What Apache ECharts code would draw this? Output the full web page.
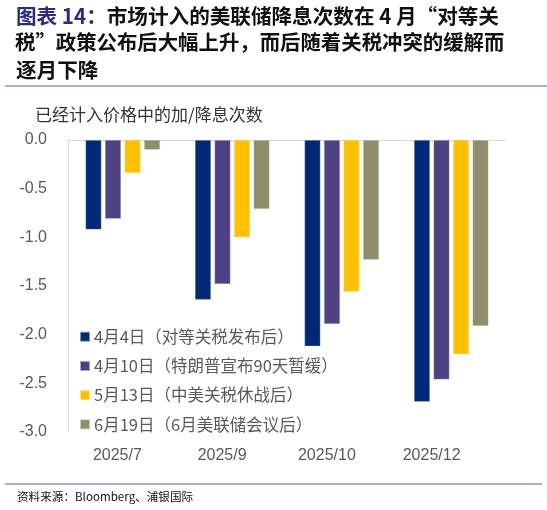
<!DOCTYPE html>
<html><head><meta charset="utf-8">
<script src="https://cdn.jsdelivr.net/npm/echarts@6/dist/echarts.min.js"></script>
<style>html,body{margin:0;padding:0;background:#fff}#c{width:547px;height:510px}</style>
</head><body><div id="c"></div>
<script>
const categories = ['2025/7', '2025/9', '2025/10', '2025/12'];
const seriesNames = ['4月4日（对等关税发布后）', '4月10日（特朗普宣布90天暂缓）', '5月13日（中美关税休战后）', '6月19日（6月美联储会议后）'];
const apr4 = [-0.92, -1.64, -2.12, -2.69];
const apr10 = [-0.81, -1.48, -1.89, -2.46];
const may13 = [-0.34, -1.00, -1.56, -2.20];
const jun19 = [-0.10, -0.71, -1.23, -1.91];
const yTicks = { min: -3, max: 0, interval: 0.5 };
const colors = ['#002A75', '#4E4184', '#FFC000', '#8E8E6A'];
const values = [apr4, apr10, may13, jun19];

const chart = echarts.init(document.getElementById('c'), null, { renderer: 'canvas' });
const labelFont = 'Liberation Sans, Arial, sans-serif';
const cjk = '"Noto Sans CJK SC", sans-serif';

chart.setOption({
  animation: false,
  color: colors,
  graphic: [
    { type: 'text', left: 16, top: 6, style: { text: '{a|图表 14：}{b|市场计入的美联储降息次数在 4 月“对等关}', rich: {
      a: { fill: '#2B2B80', font: 'bold 20.6px ' + cjk },
      b: { fill: '#111', font: 'bold 20.6px ' + cjk } } } },
    { type: 'text', left: 15, top: 32, style: { text: '税”政策公布后大幅上升，而后随着关税冲突的缓解而', fill: '#111', font: 'bold 20.4px ' + cjk } },
    { type: 'text', left: 16, top: 60, style: { text: '逐月下降', fill: '#111', font: 'bold 20.6px ' + cjk } },
    { type: 'line', shape: { x1: 5, y1: 86, x2: 547, y2: 86 }, style: { stroke: '#5A5A9C', lineWidth: 1.2 } },
    { type: 'text', left: 35, top: 106, style: { text: '已经计入价格中的加/降息次数', fill: '#333', font: '17px ' + cjk } },
    { type: 'line', shape: { x1: 5, y1: 484, x2: 542, y2: 484 }, style: { stroke: '#9A90C8', lineWidth: 1.5 } },
    { type: 'text', left: 17, top: 491, style: { text: '资料来源：Bloomberg、浦银国际', fill: '#111', font: '11.6px ' + cjk } }
  ],
  legend: {
    orient: 'vertical', left: 74, top: 323.5, itemWidth: 10, itemHeight: 10, itemGap: 12.7,
    icon: 'rect',
    data: seriesNames,
    textStyle: { color: '#595959', fontSize: 16.5, fontFamily: 'Noto Sans CJK SC', lineHeight: 16.5, padding: [0, 0, 0, -1] }
  },
  grid: [
    { left: 68, right: 41, top: 140, bottom: 78 },
    { left: 65, right: 63, top: 140, bottom: 78 }
  ],
  xAxis: [
    { type: 'category', data: categories, gridIndex: 0, position: 'top',
      axisLine: { show: true, onZero: false, lineStyle: { color: '#D9D9D9', width: 1 } },
      axisTick: { show: false }, axisLabel: { show: false } },
    { type: 'category', data: categories, gridIndex: 1, position: 'bottom',
      axisLine: { show: false }, axisTick: { show: false },
      axisLabel: { color: '#595959', fontSize: 16, fontFamily: labelFont, margin: 16 } }
  ],
  yAxis: [
    { type: 'value', gridIndex: 0, min: yTicks.min, max: yTicks.max, interval: yTicks.interval,
      axisLine: { show: true, lineStyle: { color: '#D9D9D9' } }, axisTick: { show: false },
      splitLine: { show: false },
      axisLabel: { color: '#595959', fontSize: 16, fontFamily: labelFont, margin: 21,
        formatter: v => v.toFixed(1) } },
    { type: 'value', gridIndex: 1, min: yTicks.min, max: yTicks.max, show: false }
  ],
  series: seriesNames.map((n, i) => ({
    name: n, type: 'bar', xAxisIndex: 0, yAxisIndex: 0, data: values[i],
    barWidth: 16, barGap: '22%',
    itemStyle: { color: colors[i], borderColor: 'rgba(255,255,255,0.5)', borderWidth: 0.5 }
  }))
});
</script></body></html>
